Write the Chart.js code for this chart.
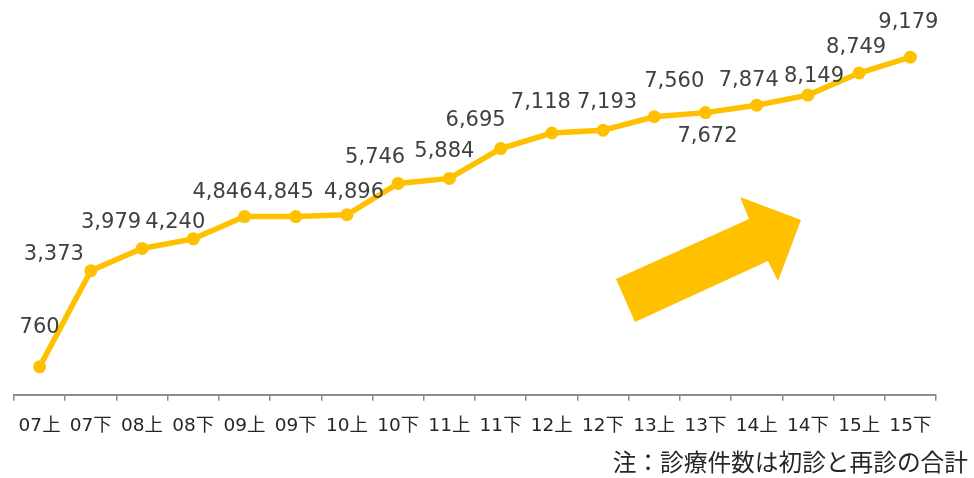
<!DOCTYPE html>
<html lang="ja">
<head>
  <meta charset="UTF-8">
  <title>診療件数の推移</title>
  <script src="https://cdn.jsdelivr.net/npm/chart.js"></script>
  <style>
    html, body { margin: 0; padding: 0; background: #fff; }
    .wrap { position: relative; width: 974px; height: 478px; }
    .note {
      position: absolute; right: 6px; top: 444px;
      font-family: "Noto Sans CJK JP", "DejaVu Sans", sans-serif;
      font-size: 23.7px; color: #262626; white-space: nowrap;
    }
  </style>
</head>
<body>
  <div class="wrap">
    <canvas id="myChart"></canvas>
    <div class="note">注：診療件数は初診と再診の合計</div>
  </div>

  <script>
    // データ
    const periods = ["07上", "07下", "08上", "08下", "09上", "09下", "10上", "10下", "11上",
                     "11下", "12上", "12下", "13上", "13下", "14上", "14下", "15上", "15下"];
    const visits = [760, 3373, 3979, 4240, 4846, 4845, 4896, 5746, 5884,
                    6695, 7118, 7193, 7560, 7672, 7874, 8149, 8749, 9179];

    // ラベルの位置ずれ (px)
    const labelShift = [
      [0, -39], [-37, -16], [-31, -26], [-18, -16], [-22, -24], [-12, -24],
      [7, -22], [-23, -26], [-5, -27], [-25, -28], [-11, -30], [4, -28],
      [20, -35], [2, 24], [-8, -25], [6, -19], [-3, -25], [-2, -35]
    ];

    const yellow = "#FFC000";

    // 数値ラベル
    const valueLabels = {
      id: "valueLabels",
      afterDatasetsDraw(chart) {
        const ctx = chart.ctx;
        const meta = chart.getDatasetMeta(0);
        ctx.save();
        ctx.font = "21px 'DejaVu Sans', sans-serif";
        ctx.fillStyle = "#404040";
        ctx.textAlign = "center";
        ctx.textBaseline = "middle";
        meta.data.forEach((pt, i) => {
          const s = labelShift[i];
          ctx.fillText(visits[i].toLocaleString("en-US"), pt.x + s[0], pt.y + s[1]);
        });
        ctx.restore();
      }
    };

    // 右上がりの矢印
    const bigArrow = {
      id: "bigArrow",
      afterDraw(chart) {
        const ctx = chart.ctx;
        ctx.save();
        ctx.fillStyle = yellow;
        ctx.beginPath();
        ctx.moveTo(635, 322);
        ctx.lineTo(616, 279);
        ctx.lineTo(749, 219);
        ctx.lineTo(740, 197);
        ctx.lineTo(801, 220);
        ctx.lineTo(778, 281);
        ctx.lineTo(768, 261);
        ctx.closePath();
        ctx.fill();
        ctx.restore();
      }
    };

    new Chart(document.getElementById("myChart"), {
      type: "line",
      data: {
        labels: periods,
        datasets: [{
          data: visits,
          borderColor: yellow,
          backgroundColor: yellow,
          borderWidth: 5.5,
          pointRadius: 6.5,
          pointHoverRadius: 6.5,
          pointBackgroundColor: yellow,
          pointBorderWidth: 0,
          tension: 0,
          clip: false
        }]
      },
      options: {
        responsive: true,
        maintainAspectRatio: false,
        animation: false,
        layout: { padding: { left: 14, right: 38, top: 27, bottom: 27 } },
        plugins: {
          legend: { display: false },
          tooltip: { enabled: false }
        },
        scales: {
          x: {
            offset: true,
            grid: {
              offset: true,
              drawOnChartArea: false,
              drawTicks: true,
              tickLength: 6,
              color: "#8c8c8c",
              lineWidth: 1.5
            },
            border: { color: "#8c8c8c", width: 2 },
            ticks: {
              color: "#262626",
              padding: 14,
              maxRotation: 0,
              autoSkip: false,
              font: { family: "'DejaVu Sans', 'Noto Sans CJK JP', sans-serif", size: 18.5 }
            }
          },
          y: {
            display: false,
            min: 0,
            max: 10000
          }
        }
      },
      plugins: [valueLabels, bigArrow]
    });
  </script>
</body>
</html>
